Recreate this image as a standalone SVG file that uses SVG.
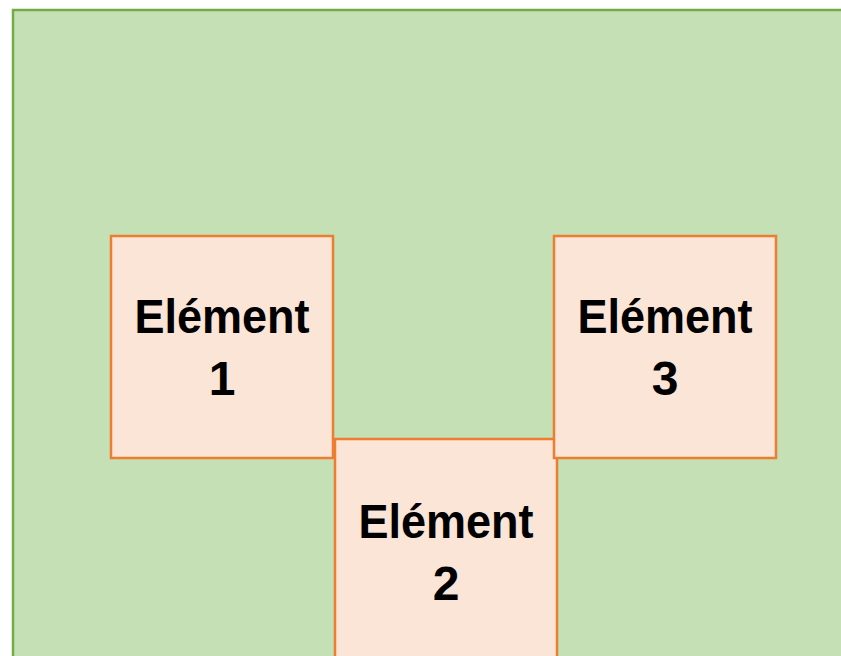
<svg xmlns="http://www.w3.org/2000/svg" width="841" height="656" viewBox="0 0 841 656">
<style>
.bg{fill:#C5E0B4;stroke:#70AD47;stroke-width:2.5}
.box{fill:#FBE5D6;stroke:#ED7D31;stroke-width:2.5}
.t{font-family:"Liberation Sans",Arial,sans-serif;font-weight:bold;font-size:48px;fill:#000;text-anchor:middle}
</style>
<rect width="841" height="656" fill="#fff"/>
<g id="background">
<rect class="bg" x="13" y="10" width="840" height="660"/>
</g>
<g id="connectors"></g>
<g id="element2">
<rect class="box" x="335" y="439" width="222" height="240"/>
<text class="t" x="446" y="538" textLength="175" lengthAdjust="spacingAndGlyphs">Elément</text>
<text class="t" x="446" y="600">2</text>
</g>
<g id="element1">
<rect class="box" x="111" y="236" width="222" height="222"/>
<text class="t" x="222" y="333" textLength="175" lengthAdjust="spacingAndGlyphs">Elément</text>
<text class="t" x="222" y="395">1</text>
</g>
<g id="element3">
<rect class="box" x="554" y="236" width="222" height="222"/>
<text class="t" x="665" y="333" textLength="175" lengthAdjust="spacingAndGlyphs">Elément</text>
<text class="t" x="665" y="395">3</text>
</g>
</svg>
